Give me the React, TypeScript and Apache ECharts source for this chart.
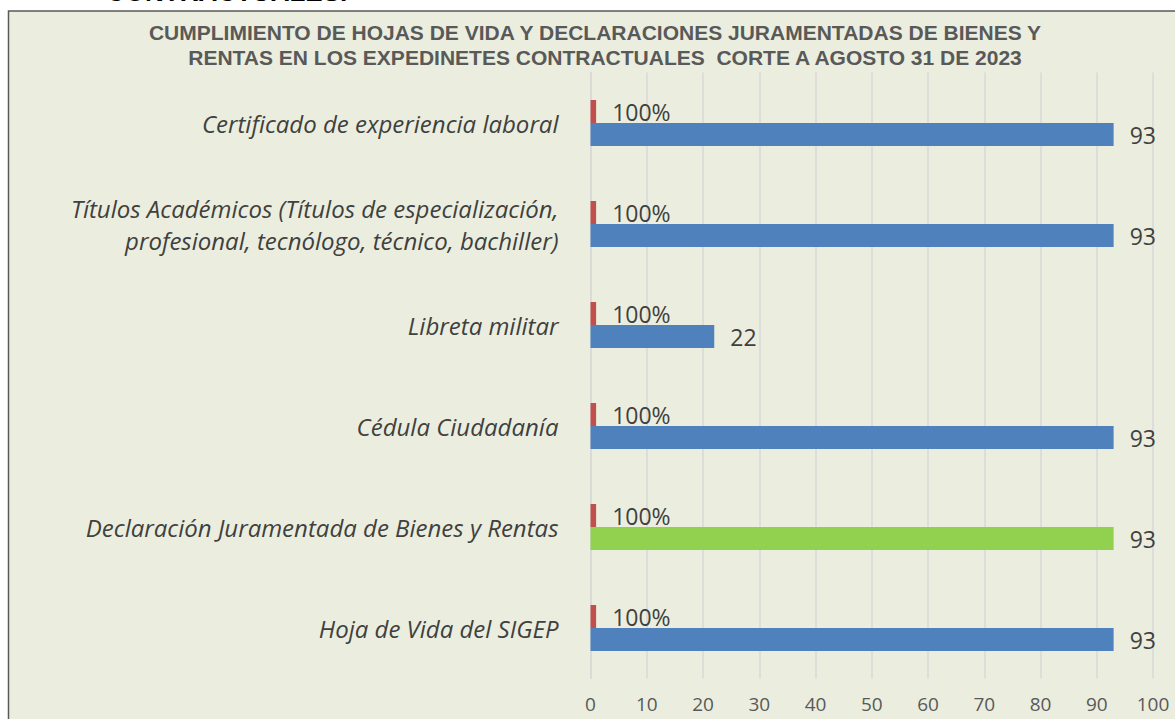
import React, { useEffect, useRef } from "react";
import * as echarts from "echarts";

const categories = [
  "Hoja de Vida del SIGEP",
  "Declaración Juramentada de Bienes y Rentas",
  "Cédula Ciudadanía",
  "Libreta militar",
  "Títulos Académicos (Títulos de especialización,\nprofesional, tecnólogo, técnico, bachiller)",
  "Certificado de experiencia laboral",
];
const totals = [93, 93, 93, 22, 93, 93];
const compliance = [1, 1, 1, 1, 1, 1];
const complianceLabels = ["100%", "100%", "100%", "100%", "100%", "100%"];
const highlightIndex = 1;
const titleLines = [
  "CUMPLIMIENTO DE HOJAS DE VIDA Y DECLARACIONES JURAMENTADAS DE BIENES Y",
  "RENTAS EN LOS EXPEDINETES CONTRACTUALES  CORTE A AGOSTO 31 DE 2023",
];
const headingText = "CONTRACTUALES.";

export default function App() {
  const ref = useRef<HTMLDivElement>(null);
  useEffect(() => {
    const chart = echarts.init(ref.current!, null, { renderer: "svg" });
    chart.setOption({
      animation: false,
      backgroundColor: "#ffffff",
      graphic: [
        {
          type: "rect",
          z: -10,
          shape: { x: 8.5, y: 11, width: 1180, height: 720 },
          style: { fill: "#EBEEDE", stroke: "#595959", lineWidth: 1.5 },
        },
        {
          type: "text",
          x: 106,
          y: 5,
          style: {
            text: headingText,
            font: "bold 26px 'Liberation Sans', Arial, sans-serif",
            fill: "#000000",
            textVerticalAlign: "bottom",
          },
        },
        {
          type: "text",
          x: 595,
          y: 32,
          style: {
            text: titleLines[0],
            font: "bold 21px 'Liberation Sans', Arial, sans-serif",
            fill: "#595959",
            textAlign: "center",
            textVerticalAlign: "middle",
          },
        },
        {
          type: "text",
          x: 605,
          y: 57,
          style: {
            text: titleLines[1],
            font: "bold 21px 'Liberation Sans', Arial, sans-serif",
            fill: "#595959",
            textAlign: "center",
            textVerticalAlign: "middle",
          },
        },
      ],
      grid: { left: 590.5, right: 22, top: 72.5, bottom: 40.5, containLabel: false },
      xAxis: {
        type: "value",
        min: 0,
        max: 100,
        interval: 10,
        axisLine: { show: false },
        axisTick: { show: false },
        splitLine: { lineStyle: { color: "#D9D9D9", width: 1.5 } },
        axisLabel: {
          color: "#595959",
          fontSize: 19,
          fontFamily: "'Open Sans', sans-serif",
          margin: 16,
        },
      },
      yAxis: {
        type: "category",
        data: categories,
        axisLine: { show: true, lineStyle: { color: "#D9D9D9", width: 1.5 } },
        axisTick: { show: false },
        axisLabel: {
          color: "#404040",
          fontSize: 24,
          fontStyle: "italic",
          fontFamily: "'Open Sans', sans-serif",
          margin: 32,
          lineHeight: 32,
          align: "right",
        },
      },
      series: [
        {
          type: "bar",
          data: compliance,
          barWidth: 23,
          barGap: "0%",
          itemStyle: { color: "#C0504D" },
          label: {
            show: true,
            position: "right",
            distance: 16,
            color: "#404040",
            fontSize: 23,
            fontFamily: "'Open Sans', sans-serif",
            formatter: (p: any) => complianceLabels[p.dataIndex],
          },
        },
        {
          type: "bar",
          data: totals.map((v, i) =>
            i === highlightIndex ? { value: v, itemStyle: { color: "#92D050" } } : v
          ),
          barWidth: 23,
          barGap: "0%",
          itemStyle: { color: "#4F81BD" },
          label: {
            show: true,
            position: "right",
            distance: 16,
            color: "#404040",
            fontSize: 23,
            fontFamily: "'Open Sans', sans-serif",
          },
        },
      ],
    });
    return () => chart.dispose();
  }, []);
  return (
    <div
      ref={ref}
      style={{ position: "fixed", left: 0, top: 0, width: 1175, height: 719 }}
    />
  );
}
